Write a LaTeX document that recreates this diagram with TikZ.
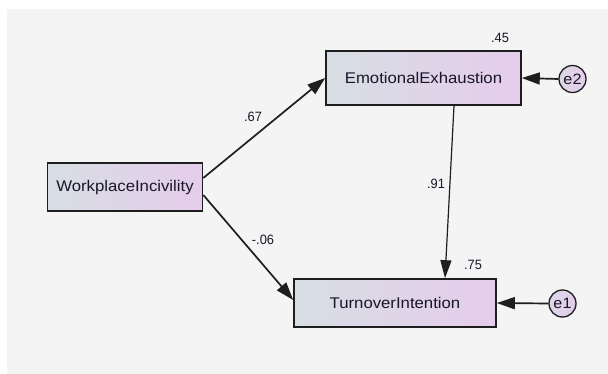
\documentclass[tikz,border=0pt]{standalone}
\usepackage{fontspec}
\setmainfont{Liberation Sans}
\newfontfamily\boxfont[FakeStretch=1.08]{Liberation Sans}
\newfontfamily\coeffont[FakeStretch=0.95]{Liberation Sans}
\usetikzlibrary{arrows.meta,shadings}
\definecolor{bgc}{RGB}{244,244,244}
\definecolor{boxL}{RGB}{215,222,228}
\definecolor{boxR}{RGB}{229,204,235}
\definecolor{edgec}{RGB}{30,30,30}
\definecolor{txtc}{RGB}{25,22,40}
\tikzset{
  varbox/.style={draw=edgec, line width=1.6pt, left color=boxL, right color=boxR,
    minimum width=#1, inner sep=0pt, font=\boxfont\fontsize{15.5}{18}\selectfont, text=txtc},
  errc/.style={circle, draw=edgec, line width=1.3pt, left color=boxL!60!boxR, right color=boxR,
    minimum size=27pt, inner sep=0pt, font=\boxfont\fontsize{15}{18}\selectfont, text=txtc},
  coef/.style={inner sep=0pt, font=\coeffont\fontsize{13.5}{15}\selectfont, text=txtc},
  arr/.style={draw=edgec, line width=1.7pt, -{Triangle[length=18pt,width=12pt]}},
  arrthin/.style={draw=edgec, line width=1.2pt, -{Triangle[length=18pt,width=11pt]}}
}
\begin{document}
\begin{tikzpicture}[x=1pt,y=-1pt]
\useasboundingbox (0,0) rectangle (608,374);
\fill[white] (0,0) rectangle (608,374);
\fill[bgc] (7,9) rectangle (608,374);

\node[varbox=155pt, minimum height=48pt] (WI) at (125,187) {WorkplaceIncivility};
\node[varbox=195pt, minimum height=54pt] (EE) at (423.5,78) {EmotionalExhaustion};
\node[varbox=202pt, minimum height=48pt] (TI) at (395,303) {TurnoverIntention};
\node[errc] (e2) at (572.5,79) {e2};
\node[errc] (e1) at (562.5,303.5) {e1};

\draw[arr] (e2.west) -- (EE.east);
\draw[arr] (e1.west) -- (TI.east);
\draw[arr] ([yshift=9pt]WI.east) -- (EE.west);
\draw[arr] ([yshift=-8pt]WI.east) -- ([yshift=3pt]TI.west);
\draw[arrthin] ([xshift=30.5pt]EE.south) -- ([xshift=50pt]TI.north);

\node[coef] (l45) at (500,38) {.45};
\node[coef] (l67) at (253,117) {.67};
\node[coef] (l06) at (263,240) {-.06};
\node[coef] (l91) at (436,184) {.91};
\node[coef] (l75) at (473,265) {.75};
\end{tikzpicture}
\end{document}
